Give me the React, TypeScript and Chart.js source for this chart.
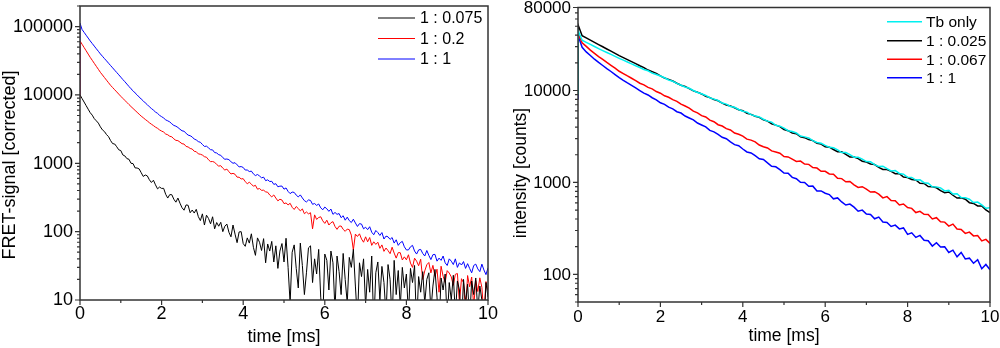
import React, { useEffect, useRef } from 'react';
import { Chart, registerables } from 'chart.js';

Chart.register(...registerables);

// ---------------- data ----------------
// Each series: first value = baseline just before the pulse (at t = 0),
// following values sampled every STEP ms starting at t = 0.
const LEFT_STEP_MS = 0.05;
const RIGHT_STEP_MS = 0.1;

const X_TICKS = [0, 2, 4, 6, 8, 10];
const LEFT_Y_LABELS = [10, 100, 1000, 10000, 100000];
const RIGHT_Y_LABELS = [100, 1000, 10000, 80000];

const LEFT_SERIES_NAMES = ['1 : 0.075', '1 : 0.2', '1 : 1'];
const RIGHT_SERIES_NAMES = ['Tb only', '1 : 0.025', '1 : 0.067', '1 : 1'];

const LEFT_BLACK = [
  10000,
  10000, 8870, 7870, 6980, 6190, 5500,
  5060, 4500, 4180, 3870, 3410,
  3080, 2910, 2630, 2450, 2150,
  1940, 1915, 1745, 1575, 1535,
  1325, 1280, 1170, 1145, 1000,
  990, 856, 853, 827, 729,
  642, 674, 654, 574, 524,
  565, 484, 423, 449, 429,
  430, 352, 310, 348, 347, 298, 270, 310, 261, 224,
  206, 246, 243, 189, 207, 187, 212, 166, 145, 182,
  125, 174, 156, 130, 165, 110, 136, 120, 137, 100,
  120, 129, 98, 84, 125, 92, 69, 99, 100, 67,
  61, 81, 68, 93, 59, 45, 81, 70, 53, 79,
  35, 66, 52, 72, 36, 62, 29, 52, 67, 36,
  80, 30, 9, 50, 64, 29, 15, 68, 32, 12,
  25, 58, 62, 18, 40, 24, 55, 11, 5, 47,
  38, 14, 52, 35, 7, 44, 26, 12, 48, 20,
  9, 42, 30, 55, 16, 5, 35, 22, 40, 8,
  28, 13, 44, 4, 25, 36, 10, 31, 18, 6,
  33, 20, 5, 38, 12, 27, 8, 30, 15, 24,
  6, 29, 18, 32, 4, 22, 13, 26, 9, 20,
  25, 7, 16, 28, 11, 4, 21, 14, 24, 5,
  18, 10, 23, 6, 19, 14, 4, 20, 9, 17,
  5, 19, 12, 21, 7, 16, 10, 4, 18, 11,
];

const LEFT_RED = [
  9000,
  61700, 55200, 49400, 44300, 39600, 35500,
  32100, 29000, 26200, 23700, 21400,
  19600, 17950, 16440, 15070, 13800,
  12820, 11910, 11070, 10280, 9550,
  8910, 8320, 7760, 7240, 6760,
  6340, 5940, 5570, 5220, 4900,
  4640, 4380, 4160, 3920, 3730,
  3560, 3380, 3250, 3080, 2960,
  2865, 2680, 2615, 2485, 2440, 2275, 2165, 2145, 2040, 1934,
  1912, 1764, 1733, 1646, 1618, 1497, 1478, 1372, 1357, 1319,
  1249, 1227, 1124, 1057, 1061, 1035, 961, 909, 922, 848,
  796, 822, 753, 698, 712, 691, 627, 625, 590, 596,
  538, 503, 528, 496, 462, 476, 418, 427, 402, 404,
  382, 377, 343, 323, 344, 310, 282, 298, 290, 257,
  263, 246, 260, 227, 211, 233, 218, 201, 215, 183,
  194, 182, 189, 110, 176, 151, 161, 165, 144, 132,
  147, 125, 135, 140, 119, 108, 120, 121, 108, 101,
  109, 107, 89, 54, 92, 85, 93, 78, 70, 84,
  71, 82, 63, 71, 65, 70, 57, 64, 51.5, 57.6,
  52.8, 47.6, 59.2, 48.6, 41, 49.3, 49.2, 38.5, 42.8, 38.7,
  45.9, 34.7, 30, 40.9, 37, 31.7, 39.5, 20, 26.7, 32.8,
  35.4, 24.9, 32.1, 22.2, 28.2, 13, 31.2, 22.3, 18.1, 26.9,
  24.8, 21.8, 16.4, 23.8, 24.4, 9, 20.5, 17.9, 7, 22.8,
  15.6, 21.7, 8, 19.3, 13.3, 21.1, 15.3, 6, 18.6, 13.6,
];

const LEFT_BLUE = [
  10000,
  112000, 90800, 82400, 74800, 67900, 61700,
  56500, 51800, 47400, 43500, 39800,
  36800, 34000, 31500, 29100, 26900,
  24900, 23000, 21300, 19700, 18200,
  16800, 15600, 14400, 13300, 12300,
  11500, 10700, 10000, 9330, 8710,
  8190, 7640, 7200, 6710, 6330,
  5990, 5620, 5380, 5030, 4810,
  4600, 4320, 4180, 4030, 3780, 3580, 3490, 3340, 3150, 2990,
  2940, 2745, 2585, 2530, 2430, 2260, 2195, 2075, 2030, 1885,
  1765, 1780, 1680, 1580, 1570, 1435, 1415, 1335, 1310, 1210,
  1145, 1155, 1130, 1055, 1000, 1020, 948, 887, 895, 869,
  796, 798, 757, 768, 700, 661, 686, 652, 613, 627,
  557, 572, 541, 545, 491, 503, 453, 463, 464, 418,
  436, 388, 360, 379, 375, 342, 322, 345, 311, 284,
  272, 291, 286, 251, 258, 242, 254, 223, 209, 229,
  216, 198, 214, 179, 191, 179, 184, 160, 171, 147,
  163, 145, 136, 152, 134, 119, 131, 129, 110, 116,
  107, 118, 98, 90, 104, 97, 88, 97, 78, 86,
  84, 77, 82, 68, 76, 63, 69, 72, 60, 54,
  54, 60, 63, 52, 47, 54, 55, 48, 44, 53,
  45, 39, 46, 46.5, 37, 41, 38, 44, 35, 32,
  40, 37, 33, 40, 30, 35, 32.5, 36.5, 29, 34,
  29, 25, 32, 33.5, 28.5, 26, 33.5, 27.5, 23.5, 29.5,
];

const RIGHT_CYAN = [
  9000,
  45000, 35200, 33400, 31700, 30100, 28500,
  27200, 25900, 24700, 23500, 22400,
  21400, 20400, 19500, 18600, 17800,
  16930, 16400, 15460, 14945, 14370,
  13755, 13010, 12600, 11975, 11420,
  10905, 10575, 10010, 9505, 9215,
  8835, 8340, 8050, 7775, 7300,
  7105, 6710, 6575, 6215, 5955,
  5820, 5470, 5285, 5160, 4870,
  4645, 4535, 4190, 4090, 3900,
  3655, 3585, 3455, 3200, 3130,
  3045, 2850, 2720, 2670, 2530,
  2410, 2385, 2255, 2115, 2110,
  2005, 1880, 1880, 1790, 1685,
  1677, 1563, 1493, 1502, 1414,
  1331, 1345, 1252, 1228, 1137,
  1133, 1061, 1068, 994, 979,
  897, 894, 873, 808, 819,
  749, 753, 683, 680, 657,
  604, 612, 570, 523, 531,
];

const RIGHT_BLACK = [
  9000,
  52000, 39400, 37300, 35300, 33400, 31600,
  29900, 28300, 26800, 25400, 24000,
  22800, 21700, 20600, 19600, 18600,
  17770, 16690, 16030, 15340, 14400,
  13660, 13220, 12680, 12000, 11410,
  11070, 10460, 9910, 9590, 9175,
  8660, 8370, 7970, 7730, 7290,
  6940, 6800, 6490, 6180, 6030,
  5640, 5500, 5250, 5100, 4800,
  4650, 4340, 4200, 4050, 3770,
  3655, 3450, 3390, 3140, 3070,
  2925, 2850, 2670, 2615, 2440,
  2420, 2280, 2160, 2150, 2015,
  1895, 1890, 1815, 1700, 1665,
  1587, 1563, 1460, 1382, 1382,
  1318, 1245, 1243, 1142, 1130,
  1077, 1062, 980, 973, 901,
  896, 874, 814, 772, 786,
  725, 676, 679, 657, 602,
  591, 555, 554, 503, 470,
];

const RIGHT_RED = [
  9000,
  42000, 33100, 30200, 27500, 25400, 23400,
  21800, 20200, 18800, 17500, 16200,
  15300, 14400, 13600, 12800, 12000,
  11500, 10815, 10425, 9750, 9350,
  8765, 8440, 7950, 7630, 7110,
  6785, 6445, 5960, 5705, 5335,
  5150, 4765, 4575, 4245, 4105,
  3850, 3725, 3450, 3340, 3190,
  2955, 2885, 2765, 2555, 2445,
  2370, 2205, 2145, 2080, 1915,
  1895, 1790, 1690, 1705, 1585,
  1572, 1453, 1433, 1323, 1320,
  1236, 1227, 1107, 1100, 1017,
  1025, 942, 881, 898, 844,
  786, 793, 744, 678, 700,
  634, 631, 568, 582, 532,
  522, 470, 485, 449, 447,
  400, 413, 373, 370, 335,
  352, 311, 307, 279, 288,
  262, 264, 231, 240, 217,
];

const RIGHT_BLUE = [
  8000,
  40000, 29500, 26300, 24000, 21900, 20200,
  18700, 17300, 16100, 14900, 13800,
  12900, 12100, 11400, 10700, 10000,
  9370, 8940, 8345, 7915, 7345,
  7075, 6590, 6305, 5880, 5685,
  5280, 5025, 4795, 4425, 4215,
  4015, 3680, 3545, 3325, 3095,
  2985, 2755, 2575, 2505, 2310,
  2145, 2095, 1955, 1810, 1780,
  1630, 1500, 1480, 1380, 1267,
  1258, 1134, 1098, 1001, 997,
  907, 911, 809, 808, 762,
  737, 663, 678, 613, 568,
  581, 538, 486, 500, 453,
  448, 402, 420, 371, 367,
  332, 343, 312, 320, 272,
  283, 252, 265, 235, 232,
  203, 221, 198, 199, 173,
  183, 155, 173, 147, 150,
  132, 144, 115, 128, 112,
];

// ---------------- styling / layout ----------------
const FONT_FAMILY = '"Liberation Sans", Arial, Helvetica, sans-serif';
const AXIS_COLOR = '#333333';

type Spec = {
  pageLeft: number;
  padding: { left: number; right: number; top: number; bottom: number };
  yMin: number;
  yMax: number;
  yLabels: number[];
  tickFont: number;
  titleFont: number;
  legendFont: number;
  yLabelX: number;
  xLabelBaseline: number;
  xTitle: string;
  xTitleBaseline: number;
  yTitle: string;
  yTitleX: number;
  yTitleY: number;
  names: string[];
  colors: string[];
  series: number[][];
  step: number;
  lineWidth: number;
  legendX0: number;
  legendX1: number;
  legendTextX: number;
  legendRows: number[];
  legendLineWidth: number;
};

const LEFT_SPEC: Spec = {
  pageLeft: 0,
  padding: { left: 80, right: 12, top: 6, bottom: 48 },
  yMin: 10,
  yMax: 200000,
  yLabels: LEFT_Y_LABELS,
  tickFont: 18,
  titleFont: 18,
  legendFont: 16,
  yLabelX: 73,
  xLabelBaseline: 319,
  xTitle: 'time [ms]',
  xTitleBaseline: 342,
  yTitle: 'FRET-signal [corrected]',
  yTitleX: 15,
  yTitleY: 165,
  names: LEFT_SERIES_NAMES,
  colors: ['#000000', '#ff0000', '#0000ff'],
  series: [LEFT_BLACK, LEFT_RED, LEFT_BLUE],
  step: LEFT_STEP_MS,
  lineWidth: 1,
  legendX0: 378,
  legendX1: 415,
  legendTextX: 420,
  legendRows: [18, 38.5, 59],
  legendLineWidth: 1,
};

const RIGHT_SPEC: Spec = {
  pageLeft: 500,
  padding: { left: 78, right: 10, top: 7.5, bottom: 46 },
  yMin: 50,
  yMax: 80000,
  yLabels: RIGHT_Y_LABELS,
  tickFont: 17,
  titleFont: 17.5,
  legendFont: 15.5,
  yLabelX: 71,
  xLabelBaseline: 322,
  xTitle: 'time [ms]',
  xTitleBaseline: 341,
  yTitle: 'intensity [counts]',
  yTitleX: 25.5,
  yTitleY: 173,
  names: RIGHT_SERIES_NAMES,
  colors: ['#00f0f0', '#000000', '#ff0000', '#0000ff'],
  series: [RIGHT_CYAN, RIGHT_BLACK, RIGHT_RED, RIGHT_BLUE],
  step: RIGHT_STEP_MS,
  lineWidth: 1.5,
  legendX0: 387,
  legendX1: 422,
  legendTextX: 426,
  legendRows: [21.7, 40.7, 59.3, 77.7],
  legendLineWidth: 1.6,
};

function toPoints(values: number[], step: number) {
  return values.map((v, i) => ({ x: i === 0 ? 0 : (i - 1) * step, y: v }));
}

function makeFramePlugin(spec: Spec) {
  return {
    id: 'frameAxesLegend',
    afterDraw(chart: any) {
      const { ctx, chartArea: a } = chart;
      const xs = chart.scales.x;
      const ys = chart.scales.y;
      const font = (px: number) => `${px}px ${FONT_FAMILY}`;
      ctx.save();

      // frame
      ctx.strokeStyle = AXIS_COLOR;
      ctx.lineWidth = 1.5;
      ctx.strokeRect(a.left, a.top, a.right - a.left, a.bottom - a.top);

      // ticks
      ctx.lineWidth = 1.2;
      ctx.beginPath();
      for (let t = 0; t <= 10; t++) {
        const px = xs.getPixelForValue(t);
        const len = t % 2 === 0 ? 5 : 3;
        ctx.moveTo(px, a.bottom);
        ctx.lineTo(px, a.bottom + len);
      }
      const dLo = Math.floor(Math.log10(spec.yMin));
      const dHi = Math.ceil(Math.log10(spec.yMax));
      for (let d = dLo; d <= dHi; d++) {
        for (let m = 1; m <= 9; m++) {
          const v = m * Math.pow(10, d);
          if (v < spec.yMin * 0.999 || v > spec.yMax * 1.001) continue;
          const py = ys.getPixelForValue(v);
          const len = m === 1 || spec.yLabels.includes(v) ? 5 : 3;
          ctx.moveTo(a.left - len, py);
          ctx.lineTo(a.left, py);
        }
      }
      ctx.stroke();

      // tick labels
      ctx.fillStyle = '#000';
      ctx.font = font(spec.tickFont);
      ctx.textAlign = 'center';
      ctx.textBaseline = 'alphabetic';
      for (const t of X_TICKS) {
        ctx.fillText(String(t), xs.getPixelForValue(t), spec.xLabelBaseline);
      }
      ctx.textAlign = 'right';
      ctx.textBaseline = 'middle';
      for (const v of spec.yLabels) {
        ctx.fillText(String(v), spec.yLabelX, ys.getPixelForValue(v) + 0.5);
      }

      // axis titles
      ctx.font = font(spec.titleFont);
      ctx.textAlign = 'center';
      ctx.textBaseline = 'alphabetic';
      ctx.fillText(spec.xTitle, (a.left + a.right) / 2, spec.xTitleBaseline);
      ctx.save();
      ctx.translate(spec.yTitleX, spec.yTitleY);
      ctx.rotate(-Math.PI / 2);
      ctx.fillText(spec.yTitle, 0, 0);
      ctx.restore();

      // legend
      ctx.font = font(spec.legendFont);
      ctx.textAlign = 'left';
      ctx.textBaseline = 'middle';
      spec.names.forEach((name, i) => {
        const y = spec.legendRows[i];
        ctx.strokeStyle = spec.colors[i];
        ctx.lineWidth = spec.legendLineWidth;
        ctx.beginPath();
        ctx.moveTo(spec.legendX0, y);
        ctx.lineTo(spec.legendX1, y);
        ctx.stroke();
        ctx.fillStyle = '#000';
        ctx.fillText(name, spec.legendTextX, y + 1);
      });

      ctx.restore();
    },
  };
}

function Panel({ spec }: { spec: Spec }) {
  const ref = useRef<HTMLCanvasElement>(null);
  useEffect(() => {
    const canvas = ref.current;
    if (!canvas) return;
    const chart = new Chart(canvas, {
      type: 'line',
      data: {
        datasets: spec.series.map((vals, i) => ({
          label: spec.names[i],
          data: toPoints(vals, spec.step),
          borderColor: spec.colors[i],
          backgroundColor: spec.colors[i],
          borderWidth: spec.lineWidth,
          pointRadius: 0,
          tension: 0,
          fill: false,
        })),
      },
      options: {
        animation: false,
        responsive: false,
        devicePixelRatio: 1,
        events: [],
        layout: { padding: spec.padding },
        scales: {
          x: { type: 'linear', min: 0, max: 10, display: false },
          y: { type: 'logarithmic', min: spec.yMin, max: spec.yMax, display: false },
        },
        plugins: {
          legend: { display: false },
          tooltip: { enabled: false },
          title: { display: false },
        },
      },
      plugins: [makeFramePlugin(spec)],
    } as any);
    return () => chart.destroy();
  }, [spec]);
  return (
    <canvas
      ref={ref}
      width={500}
      height={348}
      style={{ position: 'absolute', left: spec.pageLeft, top: 0, width: 500, height: 348, display: 'block' }}
    />
  );
}

export default function App() {
  return (
    <div style={{ position: 'absolute', left: 0, top: 0, width: 1000, height: 348, background: '#fff', overflow: 'hidden' }}>
      <Panel spec={LEFT_SPEC} />
      <Panel spec={RIGHT_SPEC} />
    </div>
  );
}
